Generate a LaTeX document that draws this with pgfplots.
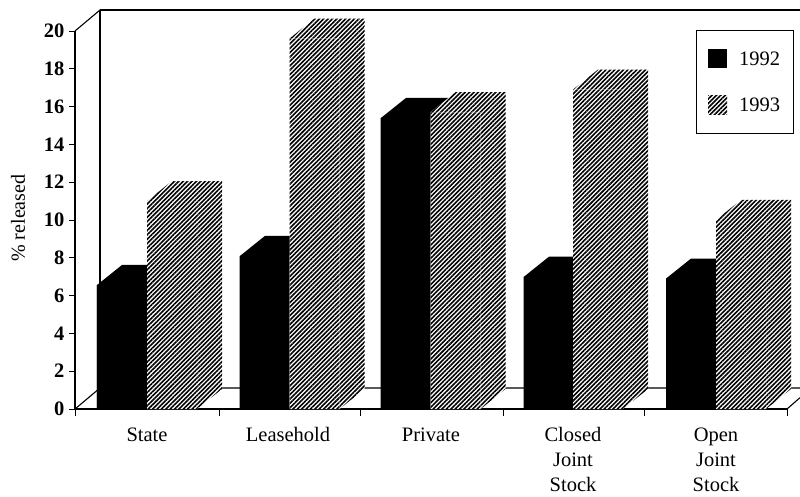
\documentclass[border=0pt]{standalone}
\usepackage{fontspec}
\setmainfont{Liberation Serif}
\usepackage{pgfplots}
\pgfplotsset{compat=1.18}
\usetikzlibrary{patterns.meta}
\tikzset{hatch/.style={draw=none,preaction={fill=white},pattern={Lines[angle=45,distance=3.1pt,line width=1.6pt]},pattern color=black}}
\begin{document}
\begin{tikzpicture}
\useasboundingbox (-75pt,-87pt) rectangle (725pt,409pt);
\begin{axis}[
  scale only axis, width=712pt, height=378pt,
  xmin=75, xmax=787, ymin=0, ymax=20,
  clip=false,
  axis x line=bottom, axis y line=left,
  axis line style={-,line width=1.1pt,black},
  tick style={black,line width=0.9pt},
  tick align=outside,
  major tick length=6pt, minor tick length=7pt,
  major x tick style={draw=none},
  ytick={0,2,...,20},
  xtick={147,288,431,573,716},
  xticklabels={State,Leasehold,Private,{Closed\\Joint\\Stock},{Open\\Joint\\Stock}},
  minor xtick={75,219,360,503,644,787},
  /pgf/number format/assume math mode=true,
  xticklabel style={align=center,font=\fontsize{20.5}{25}\selectfont,yshift=-9pt},
  yticklabel style={font=\fontsize{20.5}{22}\selectfont\bfseries,xshift=-1pt},
  ylabel={\% released},
  every axis y label/.style={at={(axis cs:18,10.1)},rotate=90,anchor=center,font=\fontsize{20}{22}\selectfont},
  legend style={at={(axis cs:696,20.05)},anchor=north west,draw=black,line width=1.1pt,
    font=\fontsize{20.5}{22}\selectfont,inner xsep=11.5pt,inner ysep=18.5pt,row sep=27pt,
    /tikz/every odd column/.append style={column sep=10pt}},
  legend cell align=left,
  legend image code/.code={\path[#1] (0pt,-9pt) rectangle (19pt,10pt);},
]
% back wall and floor
\addplot[forget plot,black,line width=1.1pt] coordinates {(75,20)(100,21.11)};
\addplot[forget plot,black,line width=1.7pt] coordinates {(100,21.11)(800,21.11)};
\addplot[forget plot,black,line width=1.4pt] coordinates {(100,21.11)(100,1.11)};
\addplot[forget plot,black,line width=1.1pt] coordinates {(75,0)(100,1.11)(800,1.11)};
\addplot[forget plot,black,line width=1.1pt] coordinates {(787,0)(800,0.6)};
% 1992 tops
\addplot[forget plot,fill=black,draw=none] coordinates {(97,6.56)(122,7.62)(172,7.62)(147,6.56)} \closedcycle;
\addplot[forget plot,fill=black,draw=none] coordinates {(240,8.1)(265,9.16)(314,9.16)(289,8.1)} \closedcycle;
\addplot[forget plot,fill=black,draw=none] coordinates {(381,15.4)(406,16.46)(455,16.46)(430,15.4)} \closedcycle;
\addplot[forget plot,fill=black,draw=none] coordinates {(524,7.0)(549,8.06)(598,8.06)(573,7.0)} \closedcycle;
\addplot[forget plot,fill=black,draw=none] coordinates {(666,6.9)(691,7.96)(741,7.96)(716,6.9)} \closedcycle;
% 1993 tops and sides
\addplot[forget plot,hatch] coordinates {(147,11.0)(172,12.06)(222,12.06)(222,1.06)(197,0)(197,11.0)} -- cycle;
\addplot[forget plot,hatch] coordinates {(289.5,19.6)(314.5,20.66)(364.5,20.66)(364.5,1.06)(339.5,0)(339.5,19.6)} -- cycle;
\addplot[forget plot,hatch] coordinates {(430.5,15.7)(455.5,16.76)(505.5,16.76)(505.5,1.06)(480.5,0)(480.5,15.7)} -- cycle;
\addplot[forget plot,hatch] coordinates {(573,16.9)(598,17.96)(648,17.96)(648,1.06)(623,0)(623,16.9)} -- cycle;
\addplot[forget plot,hatch] coordinates {(716,10.0)(741,11.06)(791,11.06)(791,1.06)(766,0)(766,10.0)} -- cycle;
% fronts
\addplot[ybar,bar width=50pt,fill=black,draw=none] coordinates {(122,6.56)(264.5,8.1)(405.5,15.4)(548.5,7.0)(691,6.9)};
\addplot[ybar,bar width=50pt,hatch] coordinates {(172,11.0)(314.5,19.6)(455.5,15.7)(598,16.9)(741,10.0)};
\legend{1992,1993}
\end{axis}
\end{tikzpicture}
\end{document}
